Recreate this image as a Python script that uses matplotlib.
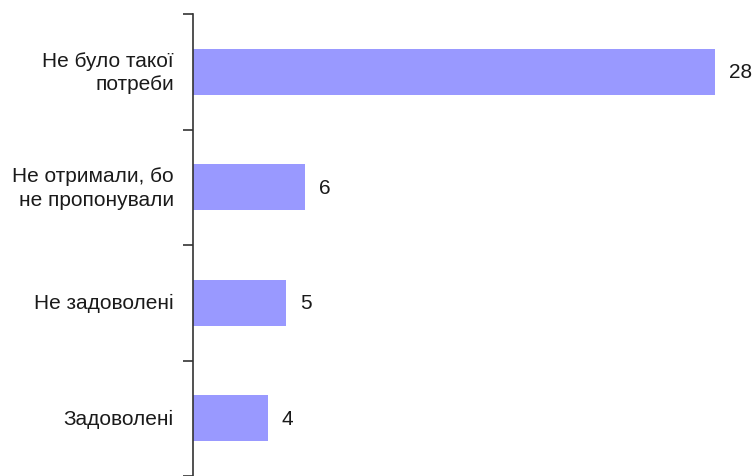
import numpy as np
import matplotlib.pyplot as plt

plt.rcParams['font.family'] = ['Liberation Sans', 'DejaVu Sans']

categories = ['Задоволені', 'Не задоволені', 'Не отримали, бо\nне пропонували', 'Не було такої\nпотреби']
values = [4, 5, 6, 28]

fig = plt.figure(figsize=(7.55, 4.77), dpi=100)
ax = fig.add_axes([193 / 755, 0, 1 - 193 / 755, 461.8 / 477])

y = np.arange(len(categories))
ax.barh(y, values, height=0.4, color='#9999FF')
ax.set_xlim(0, (755 - 193) / 18.64)
ax.set_ylim(-0.5 + 5 / 116.7, 3.5)

for s in ['top', 'right', 'bottom']:
    ax.spines[s].set_visible(False)
ax.spines['left'].set_color('#333333')
ax.spines['left'].set_linewidth(1.2)
ax.set_xticks([])
ax.set_yticks(np.arange(-0.5, 4, 1))
ax.set_yticklabels([])
ax.tick_params(axis='y', length=7, width=1.2, color='#333333')

for yi, lab in zip(y, categories):
    ax.text(-19 / 18.64, yi, lab, ha='right', va='center', fontsize=15,
            linespacing=1.3, color='#1a1a1a')
for yi, v in zip(y, values):
    ax.text(v + 14 / 18.64, yi, str(v), ha='left', va='center', fontsize=15, color='#1a1a1a')

fig.savefig('out.png', dpi=100)
